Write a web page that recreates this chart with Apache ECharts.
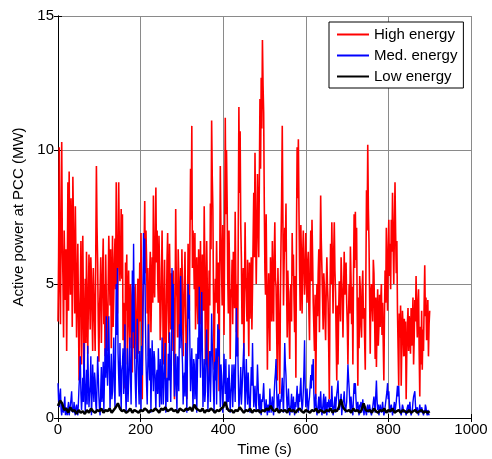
<!DOCTYPE html>
<html>
<head>
<meta charset="utf-8">
<script src="https://cdn.jsdelivr.net/npm/echarts@6/dist/echarts.min.js"></script>
<style>html,body{margin:0;padding:0;background:#fff}#c{width:492px;height:459px}</style>
</head>
<body>
<div id="c"></div>
<script>
// sampling steps (s)
var highStep = 1.5, medStep = 1.5, lowStep = 5;
var xTicks = [0, 200, 400, 600, 800, 1000];
var yTicks = [0, 5, 10, 15];
var seriesNames = ['High energy', 'Med. energy', 'Low energy'];

var highEnergy = [
3.6,6.0,10.1,4.8,3.5,7.5,10.3,6.5,5.2,3.0,7.0,5.6,4.4,6.3,2.5,5.4,8.8,4.0,9.2,6.1,
4.6,8.2,6.8,3.4,9.0,7.3,5.5,3.9,7.9,5.8,3.0,4.6,6.5,4.0,1.4,3.8,4.8,6.6,2.0,3.9,
6.8,4.4,1.0,3.5,5.2,2.8,6.2,4.5,2.4,4.2,6.1,5.0,3.3,6.0,5.2,3.9,2.5,5.6,4.6,3.6,
2.5,6.2,9.4,7.1,5.8,3.6,2.1,4.0,4.9,6.0,2.8,4.4,5.6,6.7,3.5,5.0,2.3,6.1,4.4,3.2,
2.5,4.9,6.8,5.5,4.2,6.3,2.6,4.1,6.8,3.4,4.5,5.9,6.7,4.8,8.8,6.2,3.9,5.7,8.8,6.4,
5.1,6.0,7.8,5.2,7.6,2.9,4.3,3.1,1.1,5.8,4.0,6.1,2.0,4.4,5.5,3.6,2.6,5.0,4.6,3.0,
1.7,3.9,4.9,2.6,3.6,5.0,2.2,3.4,4.0,5.2,2.4,4.1,5.8,3.6,6.9,4.5,0.7,3.8,5.0,6.4,
8.1,5.4,7.0,5.9,3.9,5.6,2.3,4.0,5.4,6.2,3.2,4.7,6.0,4.3,8.3,5.1,4.5,6.6,8.6,5.8,
7.0,5.1,4.3,6.8,5.6,2.9,3.8,5.1,7.0,4.6,2.0,3.8,5.9,3.2,1.4,3.7,5.9,6.9,4.0,2.8,
6.5,4.8,3.3,5.4,2.5,4.0,5.5,3.4,0.7,4.1,7.8,5.0,4.5,3.0,6.3,5.2,3.0,4.2,5.6,3.1,
6.3,4.7,2.3,3.9,5.0,6.2,3.9,2.4,0.7,3.8,6.5,5.3,4.0,6.8,9.3,7.4,10.9,5.6,7.0,6.1,
4.8,6.9,3.3,5.0,6.0,4.3,3.5,6.3,4.8,3.5,6.6,4.1,2.8,6.1,5.2,4.0,7.9,5.6,2.0,4.3,
6.6,4.9,1.3,3.5,5.5,4.2,8.0,6.3,11.1,9.0,7.8,4.6,1.8,3.9,5.2,4.3,6.6,5.0,3.9,5.8,
1.0,5.3,9.4,6.9,5.5,4.2,7.2,5.8,3.1,6.8,11.2,7.6,10.0,8.1,5.2,3.9,7.0,5.5,2.2,4.8,
4.5,5.9,3.5,6.2,5.5,4.1,7.7,5.3,3.2,5.0,2.3,7.0,11.6,8.4,10.7,7.2,6.0,3.5,4.0,5.6,
2.3,4.6,7.3,5.2,4.7,3.6,5.9,4.1,2.3,5.8,3.7,5.1,6.0,3.3,4.9,6.7,8.4,6.0,9.9,7.1,
5.0,6.9,9.1,7.5,6.0,8.8,11.9,9.3,12.7,10.8,14.1,12.4,11.4,8.0,5.5,4.6,7.6,5.0,1.8,4.2,
5.4,3.7,2.5,6.0,4.8,3.6,6.6,4.8,3.6,5.9,7.3,5.2,4.9,3.2,1.4,5.6,4.3,2.7,0.9,4.5,
6.5,8.2,10.9,7.5,4.2,5.8,7.1,6.2,8.0,4.9,3.0,5.5,4.5,3.5,2.2,4.7,5.0,3.6,6.9,5.3,
6.1,4.4,3.2,5.3,1.5,6.9,10.1,8.2,10.4,7.7,5.5,4.0,7.2,5.9,3.9,6.1,7.0,5.7,4.6,5.2,
6.9,5.4,4.3,5.8,6.2,4.0,2.9,5.5,7.0,5.1,7.4,6.0,4.3,3.4,2.5,4.6,0.7,3.2,5.0,3.8,
5.4,6.3,3.2,5.7,8.3,6.6,5.6,4.5,3.3,5.4,4.9,3.7,2.9,4.8,6.0,4.9,4.3,2.6,0.7,4.4,
6.5,5.0,7.3,5.6,3.9,6.1,7.3,5.5,4.7,3.0,1.4,4.2,2.0,3.9,5.1,4.4,3.6,6.0,5.1,4.5,
3.0,4.7,6.2,4.6,5.0,5.8,4.3,3.5,2.0,3.8,5.0,3.9,6.4,5.2,3.5,4.9,2.0,5.3,7.6,5.6,
7.7,5.9,7.1,4.0,1.2,4.5,2.6,5.3,4.8,3.4,3.0,4.9,5.5,3.7,4.1,2.9,1.8,5.4,8.5,7.0,
10.2,7.8,6.6,4.5,2.4,4.7,5.0,4.2,3.6,5.9,5.4,3.9,2.2,4.5,1.9,3.6,4.8,2.7,3.4,4.6,
3.4,4.4,5.0,3.1,4.3,2.8,1.4,3.9,5.5,4.3,7.1,5.2,4.0,6.3,7.4,5.3,6.5,4.8,7.4,6.2,
8.4,6.5,5.0,7.0,8.8,6.9,5.4,6.6,4.0,2.6,1.2,3.9,3.0,4.2,1.2,2.8,4.0,3.4,2.3,3.7,
2.3,3.6,0.7,2.4,3.5,4.1,2.5,3.8,3.3,2.4,4.1,2.7,3.3,4.5,2.0,3.0,4.4,3.6,5.3,3.9,
3.0,4.3,4.8,2.5,0.8,3.4,2.0,4.0,1.8,3.3,2.5,4.2,5.7,3.8,4.5,2.9,3.3,4.4,2.3,3.5,
4.0];

var medEnergy = [
1.3,0.6,0.4,0.9,1.1,0.3,0.1,0.5,0.3,0.2,0.5,0.8,0.1,0.4,0.2,0.1,0.4,0.6,0.1,0.3,
0.3,0.7,1.0,0.4,0.2,0.3,0.6,0.2,0.1,0.4,0.5,0.2,0.1,0.6,1.2,1.6,2.3,0.9,0.3,0.8,
1.5,0.6,2.8,1.3,0.2,1.0,1.8,0.5,2.7,1.5,0.4,0.9,1.2,2.3,0.1,0.8,2.0,1.1,0.6,1.7,
1.4,0.5,0.2,1.2,2.3,1.6,0.8,0.3,0.1,1.1,1.9,0.6,1.0,2.1,0.2,1.4,2.6,1.5,3.8,2.0,
1.2,2.2,3.8,1.9,0.3,1.3,2.4,0.7,1.0,2.0,3.0,1.2,0.4,2.6,5.0,3.1,5.6,2.4,1.5,0.8,
2.8,1.4,0.3,1.8,2.0,2.6,0.9,1.7,3.5,1.0,0.2,1.5,2.6,0.6,1.3,2.1,3.0,1.6,0.5,2.4,
5.5,3.2,6.5,4.0,2.0,1.1,0.4,2.2,3.7,2.4,1.2,0.5,2.5,1.8,0.3,2.7,1.6,3.9,6.9,5.0,
6.7,3.8,2.2,1.2,0.5,2.0,3.5,2.1,1.4,2.6,0.2,1.7,2.9,1.8,1.0,2.5,2.2,1.1,0.3,1.6,
1.8,0.9,2.6,1.5,0.4,2.2,1.2,0.5,3.0,1.9,0.5,1.3,2.1,2.8,0.2,1.0,1.5,0.6,2.4,1.4,
3.2,1.8,0.6,2.0,5.6,3.3,5.0,2.1,0.8,1.6,2.4,1.1,0.3,2.3,1.9,1.0,3.5,2.6,5.3,3.4,
3.4,2.0,0.5,1.4,1.7,0.8,2.8,1.6,0.2,2.4,5.0,3.7,4.6,2.5,1.0,1.8,2.6,1.3,0.3,2.2,
2.0,0.7,1.2,2.4,0.2,1.6,3.0,2.2,4.9,3.1,1.5,2.8,4.7,2.6,0.4,1.3,2.2,0.6,1.0,2.5,
3.3,1.9,0.3,1.2,1.8,2.5,0.6,1.7,3.9,2.8,2.0,1.0,0.2,2.1,1.4,2.6,0.5,1.9,3.5,2.3,
3.3,1.4,0.4,2.0,1.6,0.9,0.2,1.3,2.4,1.5,0.9,2.2,0.3,0.8,1.5,0.6,2.0,1.1,0.2,0.9,
1.3,2.0,0.4,1.1,2.0,1.4,0.6,2.5,4.1,2.3,3.0,1.6,0.3,0.7,1.2,1.9,0.5,1.0,1.6,2.2,
2.8,1.5,0.3,1.3,2.2,1.0,0.5,1.7,1.1,0.4,0.2,1.0,1.9,1.2,2.8,1.4,0.4,0.8,1.2,0.5,
0.3,1.1,2.0,1.3,0.5,0.2,0.9,0.4,0.1,0.7,0.6,0.9,1.3,0.6,0.2,0.4,0.7,0.3,0.1,0.5,
0.5,0.2,1.1,0.6,0.2,0.4,0.8,0.3,0.1,0.9,1.4,1.7,2.2,1.0,0.3,0.6,0.9,0.4,0.2,0.7,
0.6,1.0,1.5,0.7,0.2,1.6,2.8,2.0,1.6,0.8,0.3,0.6,1.1,0.5,0.1,0.3,0.5,0.9,0.2,0.4,
0.8,0.3,0.1,0.6,0.4,0.8,1.2,0.5,0.2,0.9,0.6,1.1,1.5,0.7,0.3,0.5,1.0,1.8,2.9,1.2,
0.4,0.7,1.1,0.5,0.2,0.6,0.8,1.2,1.6,1.1,2.0,1.4,2.2,0.9,0.3,0.6,0.9,0.4,0.1,0.3,
0.5,0.8,0.2,0.5,1.0,0.4,0.1,0.3,0.6,0.9,0.2,0.5,0.8,0.3,0.1,0.6,0.4,0.7,0.2,0.5,
0.7,0.4,1.2,0.6,0.1,0.3,0.5,0.8,0.2,0.6,0.9,1.1,1.4,0.7,0.3,0.5,0.6,0.9,0.1,0.4,
0.4,0.7,1.0,0.5,0.2,0.4,0.6,1.3,2.0,1.5,1.1,0.6,0.2,0.8,0.5,0.3,0.1,0.8,1.3,0.9,
1.3,0.7,0.3,0.5,0.6,0.3,0.1,0.5,0.4,0.6,0.2,0.4,0.7,0.3,0.1,0.4,0.3,0.2,0.1,0.4,
0.5,0.3,0.2,0.5,0.3,0.2,0.1,0.3,0.4,0.6,0.8,0.5,0.2,0.9,1.4,0.7,0.3,0.5,0.1,0.3,
0.5,0.3,0.2,0.4,0.6,0.3,0.1,0.2,0.4,0.6,0.8,1.0,1.3,0.7,1.0,0.5,0.2,0.4,0.5,0.3,
0.1,0.3,0.4,0.6,0.2,0.4,0.6,0.9,1.2,0.8,1.2,0.6,0.3,0.2,0.1,0.3,0.5,0.4,0.2,0.3,
0.3,0.2,0.1,0.3,0.4,0.5,0.2,0.4,0.6,0.3,0.1,0.2,0.3,0.6,0.8,0.9,1.0,0.5,0.2,0.3,
0.4,0.2,0.1,0.3,0.5,0.3,0.2,0.4,0.3,0.2,0.1,0.3,0.2,0.5,0.4,0.2,0.1,0.3,0.2,0.1,
0.1];

var lowEnergy = [
0.45,0.65,0.55,0.30,0.35,0.20,0.40,0.25,0.30,0.15,
0.30,0.20,0.25,0.15,0.30,0.20,0.35,0.25,0.20,0.30,
0.25,0.35,0.20,0.30,0.25,0.35,0.20,0.30,0.40,0.55,
0.35,0.25,0.30,0.20,0.25,0.35,0.20,0.30,0.25,0.20,
0.30,0.25,0.35,0.30,0.20,0.30,0.25,0.35,0.30,0.20,
0.35,0.30,0.40,0.25,0.30,0.35,0.25,0.30,0.20,0.35,
0.30,0.25,0.35,0.30,0.40,0.25,0.50,0.35,0.30,0.25,
0.35,0.20,0.30,0.25,0.35,0.30,0.20,0.30,0.25,0.35,
0.40,0.60,0.35,0.25,0.30,0.20,0.30,0.25,0.40,0.30,
0.20,0.30,0.25,0.35,0.20,0.30,0.25,0.30,0.20,0.30,
0.25,0.35,0.30,0.45,0.30,0.25,0.35,0.20,0.30,0.25,
0.30,0.20,0.35,0.25,0.30,0.20,0.30,0.35,0.25,0.20,
0.30,0.25,0.20,0.30,0.25,0.35,0.20,0.30,0.25,0.20,
0.30,0.25,0.35,0.20,0.30,0.25,0.40,0.70,0.40,0.30,
0.25,0.30,0.20,0.35,0.25,0.30,0.20,0.30,0.55,0.30,
0.25,0.30,0.20,0.35,0.25,0.20,0.30,0.25,0.35,0.20,
0.30,0.25,0.35,0.20,0.25,0.30,0.20,0.30,0.25,0.20,
0.30,0.20,0.25,0.30,0.20,0.25,0.30,0.20,0.25,0.20,
0.25];

function pairs(arr, step) {
  return arr.map(function (v, i) { return [i * step, v]; });
}

var FONT = 'Liberation Sans, Arial, sans-serif';
var chart = echarts.init(document.getElementById('c'), null, {renderer: 'canvas'});
var gridColor = '#8a8a8a';
var option = {
  animation: false,
  backgroundColor: '#fff',
  grid: {left: 58, right: 21, top: 16, bottom: 41, containLabel: false, outerBoundsMode: 'none'},
  legend: {
    orient: 'vertical',
    left: 329, top: 22,
    padding: [5, 6, 4, 7],
    itemGap: 6,
    itemWidth: 32,
    itemHeight: 14,
    backgroundColor: '#fff',
    borderColor: '#000',
    borderWidth: 1,
    borderRadius: 0,
    itemStyle: {opacity: 0},
    textStyle: {fontFamily: FONT, fontSize: 15, color: '#000', padding: [0,0,0,0]},
    data: seriesNames
  },
  xAxis: [{
    type: 'value', min: xTicks[0], max: xTicks[xTicks.length - 1], interval: 200,
    name: 'Time (s)', nameLocation: 'middle', nameGap: 22,
    nameTextStyle: {fontFamily: FONT, fontSize: 15, color: '#000'},
    axisLine: {show: true, lineStyle: {color: '#000', width: 1}},
    axisTick: {show: true, inside: true, length: 4, lineStyle: {color: '#000'}},
    axisLabel: {fontFamily: FONT, fontSize: 15, color: '#000', margin: 4,
      formatter: function (v) { return String(v); }},
    splitLine: {show: true, lineStyle: {color: gridColor, width: 1}}
  }, {
    type: 'value', position: 'top', min: 0, max: 1000, interval: 200,
    axisLine: {show: true, lineStyle: {color: '#000', width: 1}},
    axisTick: {show: true, inside: true, length: 4, lineStyle: {color: '#000'}},
    axisLabel: {show: false}, splitLine: {show: false}
  }],
  yAxis: [{
    type: 'value', min: yTicks[0], max: yTicks[yTicks.length - 1], interval: 5,
    name: 'Active power at PCC (MW)', nameLocation: 'middle', nameGap: 24,
    nameTextStyle: {fontFamily: FONT, fontSize: 15, color: '#000'},
    axisLine: {show: true, lineStyle: {color: '#000', width: 1}},
    axisTick: {show: true, inside: true, length: 4, lineStyle: {color: '#000'}},
    axisLabel: {fontFamily: FONT, fontSize: 15, color: '#000', margin: 4},
    splitLine: {show: true, lineStyle: {color: gridColor, width: 1}}
  }, {
    type: 'value', position: 'right', min: 0, max: 15, interval: 5,
    axisLine: {show: true, lineStyle: {color: '#000', width: 1}},
    axisTick: {show: true, inside: true, length: 4, lineStyle: {color: '#000'}},
    axisLabel: {show: false}, splitLine: {show: false}
  }],
  series: [{
    name: seriesNames[0], type: 'line', data: pairs(highEnergy, highStep),
    symbol: 'none', color: '#ff0000', lineStyle: {width: 1.6, color: '#ff0000'}, z: 2
  }, {
    name: seriesNames[1], type: 'line', data: pairs(medEnergy, medStep),
    symbol: 'none', color: '#0000ff', lineStyle: {width: 1.4, color: '#0000ff'}, z: 3
  }, {
    name: seriesNames[2], type: 'line', data: pairs(lowEnergy, lowStep),
    symbol: 'none', color: '#000000', lineStyle: {width: 2.5, color: '#000000'}, z: 4
  }]
};
chart.setOption(option);
</script>
</body>
</html>
